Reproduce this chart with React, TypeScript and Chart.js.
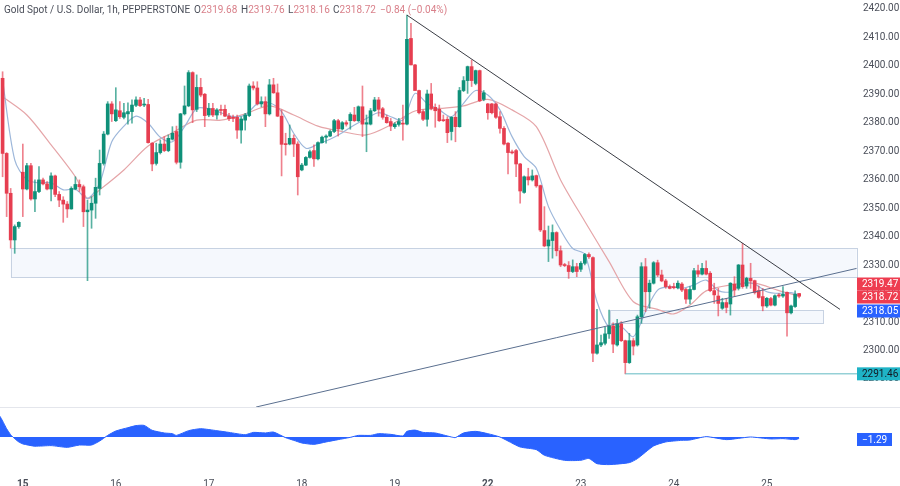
import { useEffect, useRef } from 'react';
import { Chart, registerables } from 'chart.js';

Chart.register(...registerables);

const opens = [
  2395.3, 2368.9, 2354.9, 2338.5, 2343.2, 2362.3, 2356.4, 2364.6, 2352.9, 2355.5,
  2359.6, 2358.2, 2356.4, 2361, 2354.5, 2352.5, 2351.1, 2349.4, 2356.4, 2358,
  2357.2, 2348.4, 2349, 2351.4, 2356.6, 2365.4, 2375.7, 2386.3, 2380.4, 2383.9,
  2381.6, 2382.8, 2383.6, 2385.8, 2387.7, 2385.9, 2386.1, 2372.5, 2365.4, 2369.2,
  2372.2, 2369.9, 2373.9, 2376.6, 2365.8, 2382.8, 2385.6, 2397.3, 2384.4, 2392.1,
  2389.7, 2382.4, 2384.7, 2382.4, 2384.3, 2384.4, 2382, 2381.6, 2381.6, 2377.1,
  2380.6, 2382.2, 2392.6, 2391.9, 2386.3, 2387.1, 2382.8, 2393, 2390.2, 2382,
  2372.1, 2372.2, 2374.2, 2372.2, 2363.1, 2364.8, 2367.5, 2369.9, 2367, 2372.7,
  2374.6, 2375, 2376.6, 2380.4, 2377.5, 2379.7, 2380.4, 2382.4, 2380.4, 2385.3,
  2379.2, 2379.2, 2383.9, 2387.7, 2384.6, 2381.6, 2380.1, 2378.3, 2379.1, 2379.5,
  2379.2, 2409.3, 2400, 2391, 2383.6, 2380.9, 2389.8, 2385.1, 2384.4, 2380.6,
  2380.9, 2376.6, 2381.6, 2378.3, 2391, 2394.5, 2399.4, 2393.5, 2398, 2387.9,
  2386.3, 2386.3, 2386.3, 2381.8, 2377.7, 2372.5, 2369.3, 2369.9, 2365.2, 2355.2,
  2360.7, 2359.6, 2361.1, 2357.6, 2341.8, 2336.4, 2338.3, 2341.1, 2334.7, 2329.7,
  2329.5, 2327.4, 2329.1, 2328.2, 2330.3, 2333.4, 2332.3, 2298.7, 2301.6, 2302.2,
  2305.5, 2308.3, 2301.6, 2309, 2303.1, 2295.4, 2303.1, 2301.6, 2311.5, 2329.1,
  2320.3, 2323.3, 2330.5, 2326.2, 2324.1, 2322.1, 2322.1, 2321.7, 2323, 2321.1,
  2317.7, 2321.1, 2327.7, 2326.5, 2328.5, 2326.8, 2320.7, 2318.8, 2314.5, 2316.5,
  2316, 2323, 2321.5, 2329.7, 2322.3, 2325, 2324.2, 2320.7, 2318.6, 2315.3,
  2317.9, 2315.6, 2319.2, 2318.8, 2320.1, 2312.9, 2315.1, 2319.68,
];
const highs = [
  2397.6, 2369.2, 2356.6, 2343.8, 2344.9, 2372.2, 2365.4, 2365.4, 2359.6, 2364.3,
  2360.2, 2359, 2362.1, 2361.3, 2355.5, 2353.7, 2352, 2357.2, 2360.7, 2359.6,
  2357.8, 2352.5, 2353.7, 2360.2, 2370.1, 2376.6, 2387.1, 2387.1, 2392, 2387.1,
  2386.5, 2386.7, 2387.7, 2388.8, 2388.6, 2388.3, 2387.9, 2372.7, 2372.5, 2373.6,
  2374.8, 2375.4, 2378.3, 2378.5, 2383, 2392.6, 2398, 2397.6, 2396.5, 2395.3,
  2390, 2386.5, 2386.5, 2384.7, 2385.9, 2385.9, 2383, 2382.4, 2382.4, 2381.8,
  2383, 2393.3, 2394.1, 2394.1, 2388.8, 2388.8, 2394.9, 2395.3, 2393.3, 2384.2,
  2376, 2378.9, 2375.4, 2373, 2365.4, 2367.8, 2370.1, 2371.9, 2373, 2375,
  2375.4, 2377.1, 2380.9, 2380.9, 2380.1, 2380.4, 2383.2, 2385.1, 2385.6, 2392.6,
  2382.4, 2384.7, 2388.6, 2388.6, 2385.1, 2382.4, 2381.2, 2379.7, 2381.2, 2385.9,
  2417.5, 2414.6, 2400.2, 2391.2, 2384.2, 2391.2, 2393.5, 2386.3, 2385.9, 2382.4,
  2381.8, 2381.8, 2383.6, 2392.1, 2395.9, 2399.6, 2401.7, 2398.2, 2398.2, 2391,
  2386.5, 2386.5, 2386.7, 2383.6, 2378.3, 2372.7, 2370.1, 2370.3, 2365.4, 2361,
  2363.7, 2363.1, 2361.3, 2357.8, 2350.2, 2343.4, 2343.8, 2341.4, 2336.4, 2330.3,
  2330.9, 2331.5, 2330.3, 2330.9, 2333.8, 2334, 2332.6, 2314.1, 2305.1, 2307.8,
  2313.9, 2309.4, 2310.6, 2309.8, 2303.3, 2305.7, 2303.9, 2312.1, 2330.5, 2332,
  2324.4, 2330.9, 2331.4, 2327.9, 2324.7, 2322.7, 2323.3, 2324.1, 2323.5, 2321.5,
  2322.1, 2328.5, 2329.7, 2330.3, 2331.2, 2327.4, 2323.3, 2321.5, 2318, 2318,
  2323.5, 2325.6, 2329.9, 2337.3, 2325.4, 2330.3, 2324.4, 2322.3, 2321.5, 2318.3,
  2318.3, 2319.2, 2319.7, 2322.1, 2320.3, 2315.6, 2320.6, 2319.76,
];
const lows = [
  2360.7, 2346.7, 2335.6, 2333.8, 2342.6, 2346.7, 2356.1, 2352.5, 2348.4, 2355.1,
  2357.8, 2356.1, 2352.2, 2353.7, 2350.2, 2344.7, 2346.4, 2349.3, 2356.1, 2355.5,
  2343.2, 2324.2, 2342.6, 2346.1, 2354.3, 2364.8, 2375.4, 2380.1, 2380.1, 2381.2,
  2381, 2379.2, 2379.5, 2385.3, 2385.3, 2385.3, 2372.5, 2362.8, 2364.8, 2368.7,
  2369.5, 2369.5, 2373.6, 2365.2, 2363.7, 2382.4, 2385.3, 2379.7, 2383.6, 2388.8,
  2378.3, 2381.8, 2381.8, 2380.9, 2382.4, 2381.8, 2380.4, 2380.1, 2374.2, 2372.5,
  2377.1, 2381.8, 2391.2, 2385.9, 2385.3, 2378.3, 2382.4, 2390, 2381.8, 2361,
  2368.3, 2371.9, 2367.8, 2354.3, 2362.8, 2364.6, 2367.2, 2364.3, 2366.6, 2372.5,
  2372.5, 2374.8, 2376.2, 2375, 2377.1, 2378.5, 2377.4, 2380.1, 2380.1, 2374.8,
  2369.5, 2378.9, 2383.6, 2382, 2380.9, 2379.5, 2376.9, 2377.7, 2378.5, 2373.6,
  2378.9, 2400, 2391, 2382.8, 2380.4, 2378.5, 2384.2, 2378.1, 2380.1, 2380.1,
  2372.7, 2373.6, 2373, 2378.1, 2390.6, 2390, 2392.4, 2393, 2387.1, 2387.4,
  2380.9, 2382.8, 2381.2, 2376, 2371.9, 2361.7, 2368.7, 2360.7, 2351.4, 2354.9,
  2357.8, 2359.2, 2357, 2341.4, 2336.1, 2330.9, 2332.1, 2332.9, 2329.1, 2329.1,
  2325, 2327, 2325.6, 2327.4, 2329.7, 2332, 2295.7, 2298.4, 2301, 2301.6,
  2303.9, 2298.9, 2301.2, 2302.8, 2291.46, 2295.1, 2298.1, 2301.2, 2309.2, 2313.3,
  2314.5, 2323, 2325.6, 2323.8, 2321.5, 2321.3, 2321.3, 2321.3, 2320.3, 2316.2,
  2316, 2320.9, 2325.6, 2326.2, 2326.2, 2320.3, 2316.2, 2311.8, 2314.1, 2312.9,
  2312.1, 2318.6, 2320.9, 2321.5, 2321.5, 2321.5, 2319.5, 2318, 2313.6, 2314.8,
  2315.3, 2315.3, 2318.3, 2318.3, 2304.7, 2312.5, 2314.8, 2318.16,
];
const closes = [
  2368.9, 2354.9, 2338.5, 2343.2, 2344.7, 2356.4, 2364.6, 2352.9, 2355.5, 2359.6,
  2358.2, 2356.4, 2361, 2354.5, 2352.5, 2351.1, 2349.4, 2356.6, 2358, 2357.2,
  2348.4, 2349, 2351.4, 2357, 2365.4, 2375.7, 2386.3, 2382.8, 2384.2, 2381.8,
  2383.2, 2383.6, 2385.9, 2387.7, 2385.7, 2386.1, 2372.7, 2365.2, 2369.2, 2372.2,
  2369.9, 2374.2, 2376, 2365.8, 2382.8, 2385.6, 2397.3, 2384.2, 2392.1, 2389.4,
  2382.2, 2384.7, 2382.4, 2384.2, 2384, 2382, 2381.1, 2381.2, 2377.1, 2381,
  2382.4, 2392.6, 2391.9, 2386.3, 2387.1, 2382.8, 2393, 2390.2, 2382, 2372.1,
  2372, 2374.2, 2372.2, 2360.7, 2364.8, 2367.5, 2369.5, 2367, 2372.7, 2374.6,
  2375, 2376.6, 2380.4, 2377.5, 2379.7, 2379.2, 2382.6, 2380.4, 2385.3, 2379.2,
  2379.7, 2383.9, 2387.7, 2384.4, 2381.6, 2379.7, 2378.5, 2379.2, 2380.1, 2379.2,
  2409, 2400, 2391, 2383.2, 2380.9, 2389.8, 2384.7, 2383.9, 2380.4, 2380.4,
  2376.2, 2381.6, 2378.3, 2391, 2394.5, 2399.4, 2394.5, 2398, 2387.4, 2390.2,
  2383.2, 2383.2, 2381.6, 2377.7, 2372.2, 2369.2, 2369.1, 2365.2, 2355.7, 2360.7,
  2359.6, 2361, 2357.5, 2342, 2336.4, 2338.5, 2341.1, 2334.7, 2329.7, 2329.5,
  2327.4, 2329.1, 2327.4, 2330.3, 2333.4, 2332.6, 2298.7, 2301.6, 2302.4, 2305.5,
  2308.3, 2301.9, 2309, 2303.1, 2295.4, 2303.1, 2301.2, 2311.5, 2329.1, 2320.3,
  2323.3, 2330.5, 2326.2, 2324.1, 2322.1, 2321.5, 2321.7, 2323.3, 2320.9, 2317.7,
  2321.1, 2327.7, 2326.5, 2328.5, 2326.5, 2320.7, 2319.2, 2316.2, 2316.5, 2314.8,
  2323.3, 2320.9, 2329.7, 2322.1, 2325, 2324.1, 2320, 2318.3, 2315.3, 2318,
  2315.6, 2318.9, 2318.8, 2319.4, 2312.9, 2315.3, 2319.4, 2318.72,
];

const fastMaIdx = [
  0, 3, 6, 9, 12, 15, 18, 21, 24, 27, 30, 33, 36, 39, 42, 45, 48, 51, 54, 57, 60, 63, 66, 69, 72,
  75, 78, 81, 84, 87, 90, 93, 96, 99, 102, 105, 108, 111, 114, 117, 120, 123, 126, 129, 132, 135,
  138, 141, 144, 147, 150, 153, 156, 159, 162, 165, 168, 171, 174, 177, 180, 183, 186, 189, 192, 195, 197,
];
const fastMa = [
  2394.7, 2366.6, 2359.6, 2358.6, 2358.6, 2356.1, 2356.3, 2353.1, 2358.4, 2373, 2378.5, 2382, 2379.5,
  2374.6, 2373, 2378.3, 2384.7, 2384.6, 2383.2, 2381.8, 2382.4, 2386.3, 2386.7, 2383.6, 2376,
  2370.7, 2372.2, 2373.9, 2376.2, 2378.9, 2381.2, 2383.2, 2381.8, 2380.6, 2390, 2386.5, 2384.2, 2381.8,
  2386.5, 2391, 2389.4, 2384.2, 2374.8, 2367.8, 2363.7, 2350.2, 2342, 2335.5, 2333.4, 2316.8, 2307.8,
  2308, 2304.5, 2313.3, 2320.9, 2322.1, 2321.5, 2322.7, 2324.4, 2320.7, 2320.3, 2323.3, 2323, 2320.3,
  2319.7, 2320, 2319.2,
];
const slowMaIdx = [
  0, 6, 12, 18, 21, 24, 30, 36, 42, 48, 54, 60, 66, 72, 78, 84, 90, 96, 102, 108, 114, 120, 126, 132,
  138, 144, 150, 156, 162, 166, 170, 174, 180, 186, 192, 197,
];
const slowMa = [
  2388.8, 2382.4, 2371.9, 2360.7, 2353.1, 2356.1, 2363.1, 2371.5, 2376.2, 2380.6, 2380.6, 2382.8, 2385.6,
  2382.4, 2378.5, 2376.6, 2375.4, 2378.9, 2383.8, 2384.7, 2385.6, 2387.9, 2384.2, 2378.3, 2359.6, 2345,
  2330.9, 2316.8, 2314.1, 2312.5, 2315.6, 2320.6, 2322.7, 2323.3, 2320.7, 2318.8,
];
const oscIdx = [
  -0.64, 0, 1, 2, 3, 4, 5, 8, 12, 16, 19, 22, 24, 26, 28, 31, 33, 35, 37, 40, 42, 43, 46, 49, 53, 56, 60, 62,
  65, 67, 70, 72, 74, 77, 80, 83, 86, 88, 91, 93, 96, 99, 100, 102, 104, 107, 111, 112, 114, 117, 120,
  123, 125, 128, 132, 134, 139, 143, 145, 147, 150, 155, 157, 161, 164, 168, 170, 174, 179, 182, 185,
  190, 193, 196, 197,
];
const oscValues = [
  18, 14, 7.2, 2, -1.5, -4.3, -6, -8, -7.5, -9, -7, -7, -3.5, 1.4, 5.2, 8.1, 9.9, 10.1, 5.8, 3.5, 2.9, 1.4,
  5.5, 7.2, 5.5, 4, 2, 4, 3.5, 4.3, -0.6, -2.9, -5.2, -6.4, -4.3, -2.3, -0.3, 1.4, 1.4, 2.9, 2.3, 0.9,
  4.9, 6, 4, 3.5, 0, -0.5, 3.5, 4.9, 2.9, 0, -3.5, -8.7, -11, -15.9, -20.3, -20.3, -18.6, -23.2, -24,
  -22.3, -18.8, -7.8, -4.3, -2.9, -2.6, 0.3, -2.3, -1.2, 0, -1.7, -1.4, -2.3, -1.29,
];

const downTrendX = [100, 207.1];
const downTrendY = [2417.5, 2314.1];
const upTrendX = [62.7, 211.2];
const upTrendY = [2279.8, 2328.5];
const lowLineX = [154, 212];
const lowLineY = [2291.46, 2291.46];

const zoneX = [2, 211.2];
const zoneY = [2325.2, 2335.5];
const zone2X = [150.2, 203];
const zone2Y = [2309.2, 2313.9];

const priceTicks = [2290, 2300, 2310, 2320, 2330, 2340, 2350, 2360, 2370, 2380, 2390, 2400, 2410, 2420];
const dayTicks = [5, 28, 51, 74, 97, 120, 143, 166, 189];
const dayLabels = ['15', '16', '17', '18', '19', '22', '23', '24', '25'];
const boldDays = ['15', '22'];

const UP = '#0f9079';
const DOWN = '#e63e50';
const FONT = 'Roboto, sans-serif';

const pts = (xs: number[], ys: number[]) => xs.map((x, i) => ({ x, y: ys[i] }));

const overlay = {
  id: 'overlay',
  beforeDatasetsDraw(chart: any) {
    const { ctx, scales } = chart;
    const box = (xs: number[], ys: number[]) => {
      const l = scales.x.getPixelForValue(xs[0]);
      const r = scales.x.getPixelForValue(xs[1]);
      const t = scales.y.getPixelForValue(ys[1]);
      const b = scales.y.getPixelForValue(ys[0]);
      ctx.fillStyle = '#f5f8fd';
      ctx.fillRect(l, t, r - l, b - t);
      ctx.strokeStyle = '#c7d2e2';
      ctx.lineWidth = 1;
      ctx.strokeRect(Math.round(l) + 0.5, Math.round(t) + 0.5, Math.round(r - l), Math.round(b - t));
    };
    box(zoneX, zoneY);
    box(zone2X, zone2Y);
  },
  afterDraw(chart: any) {
    const { ctx, scales } = chart;
    ctx.save();
    // pane separator
    ctx.strokeStyle = '#e4e6ec';
    ctx.lineWidth = 1;
    ctx.beginPath();
    ctx.moveTo(0, 407.5);
    ctx.lineTo(900, 407.5);
    ctx.stroke();

    ctx.font = `10px ${FONT}`;
    ctx.textAlign = 'left';
    ctx.textBaseline = 'middle';
    // axis labels sit 1-2px lower than chart.js would put them
    ctx.fillStyle = '#4a4e59';
    priceTicks.forEach((v) => {
      ctx.fillText(v.toFixed(2), 863, scales.y.getPixelForValue(v) + 1);
    });

    const tag = (text: string, cy: number, h: number, w: number, bg: string, fg: string) => {
      ctx.fillStyle = bg;
      ctx.fillRect(857, cy - h / 2, w, h);
      ctx.fillStyle = fg;
      ctx.fillText(text, 862, cy + 0.5);
    };
    tag('2319.47', 284, 13, 43, '#ee3d50', '#ffffff');
    tag('2318.72', 297, 13, 43, '#ee3d50', '#ffffff');
    tag('2318.05', 311, 13, 43, '#2962ff', '#ffffff');
    tag('2291.46', scales.y.getPixelForValue(2291.46), 13, 43, '#1fb3c6', '#131722');
    tag('−1.29', 439.5, 13, 35, '#2962ff', '#ffffff');
    ctx.restore();
  },
};

export default function App() {
  const canvasRef = useRef<HTMLCanvasElement>(null);

  useEffect(() => {
    if (!canvasRef.current) return;
    const idx = opens.map((_, i) => i);
    const candleColors = idx.map((i) => (closes[i] >= opens[i] ? UP : DOWN));
    const wickColors = idx.map((i) => (closes[i] >= opens[i] ? 'rgba(15,144,121,0.7)' : 'rgba(230,62,80,0.65)'));
    const chart = new Chart(canvasRef.current, {
      type: 'bar',
      data: {
        datasets: [
          {
            type: 'line',
            data: pts(downTrendX, downTrendY),
            borderColor: '#3a3d45',
            borderWidth: 1,
            pointRadius: 0,
            order: 1,
          },
          {
            type: 'line',
            data: pts(upTrendX, upTrendY),
            borderColor: '#5a6f8f',
            borderWidth: 1,
            pointRadius: 0,
            order: 1,
          },
          {
            type: 'line',
            data: pts(lowLineX, lowLineY),
            borderColor: '#62b9c2',
            borderWidth: 1,
            pointRadius: 0,
            order: 1,
          },
          {
            type: 'line',
            data: pts(fastMaIdx, fastMa),
            borderColor: '#9db7da',
            borderWidth: 1.2,
            pointRadius: 0,
            tension: 0.3,
            order: 4,
          },
          {
            type: 'line',
            data: pts(slowMaIdx, slowMa),
            borderColor: '#e5a5a8',
            borderWidth: 1.2,
            pointRadius: 0,
            tension: 0.3,
            order: 4,
          },
          {
            type: 'bar',
            data: idx.map((i) => ({ x: i, y: [opens[i], closes[i]] })),
            backgroundColor: candleColors,
            grouped: false,
            maxBarThickness: 3,
            minBarLength: 1,
            categoryPercentage: 1,
            barPercentage: 1,
            borderWidth: 0,
            order: 2,
          },
          {
            type: 'bar',
            data: idx.map((i) => ({ x: i, y: [lows[i], highs[i]] })),
            backgroundColor: wickColors,
            grouped: false,
            maxBarThickness: 1,
            categoryPercentage: 1,
            barPercentage: 1,
            borderWidth: 0,
            order: 3,
          },
          {
            type: 'line',
            data: pts(oscIdx, oscValues),
            yAxisID: 'osc',
            borderColor: '#2962ff',
            backgroundColor: '#2962ff',
            borderWidth: 1,
            pointRadius: 0,
            tension: 0.2,
            fill: { value: 0 },
            order: 5,
          },
        ] as any,
      },
      options: {
        responsive: false,
        animation: false,
        devicePixelRatio: 1,
        events: [],
        layout: { padding: 0 },
        plugins: { legend: { display: false }, tooltip: { enabled: false } },
        scales: {
          x: {
            type: 'linear',
            offset: false,
            min: -0.64,
            max: 212.05,
            grid: { display: false },
            border: { display: false },
            afterBuildTicks: (s: any) => {
              s.ticks = dayTicks.map((value) => ({ value }));
            },
            afterFit: (s: any) => {
              s.height = 16;
              s.paddingLeft = 0;
              s.paddingRight = 0;
            },
            ticks: {
              autoSkip: false,
              maxRotation: 0,
              padding: 0,
              color: '#4a4e59',
              font: (c: any) => ({
                family: FONT,
                size: 10,
                weight: boldDays.includes(dayLabels[dayTicks.indexOf(c.tick?.value)]) ? 'bold' : 'normal',
              }),
              callback: (v: any) => dayLabels[dayTicks.indexOf(Number(v))] ?? '',
            },
          },
          y: {
            position: 'right',
            min: 2257.67,
            max: 2422.81,
            grid: { display: false },
            border: { display: false },
            afterFit: (s: any) => {
              s.width = 40;
              s.paddingTop = 0;
              s.paddingBottom = 0;
            },
            ticks: { display: false },
          },
          osc: { display: false, min: -28.7, max: 380 },
        },
      } as any,
      plugins: [overlay],
    });
    return () => {
      chart.destroy();
    };
  }, []);

  const label = { position: 'absolute', top: 4, whiteSpace: 'nowrap' } as const;
  const pink = { color: '#d9808a' };
  return (
    <div style={{ position: 'absolute', left: 0, top: 0, width: 900, height: 486, background: '#fff', fontFamily: FONT, fontSize: 10, color: '#4a4e59' }}>
      <canvas ref={canvasRef} width={900} height={486} style={{ display: 'block' }} />
      <span style={{ ...label, left: 4 }}>Gold Spot / U.S. Dollar, 1h, PEPPERSTONE</span>
      <span style={{ ...label, left: 194 }}>O<span style={pink}>2319.68</span></span>
      <span style={{ ...label, left: 241 }}>H<span style={pink}>2319.76</span></span>
      <span style={{ ...label, left: 288 }}>L<span style={pink}>2318.16</span></span>
      <span style={{ ...label, left: 333 }}>C<span style={pink}>2318.72</span></span>
      <span style={{ ...label, left: 380, ...pink }}>−0.84 (−0.04%)</span>
    </div>
  );
}
